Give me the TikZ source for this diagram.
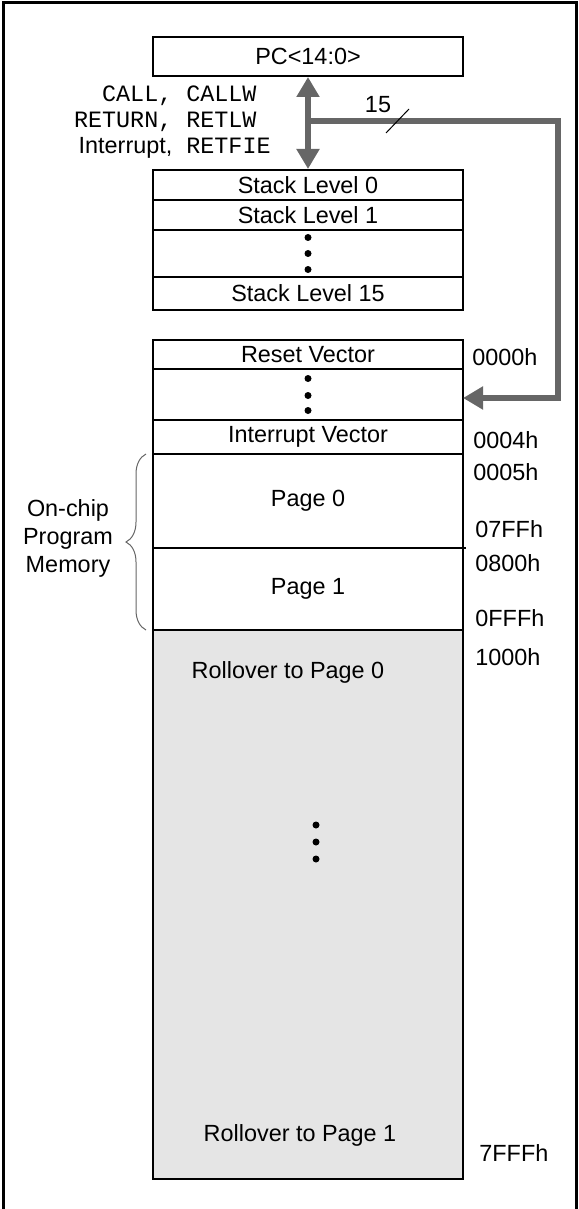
\documentclass[tikz,border=0pt]{standalone}
\usepackage{fontspec}
\setmainfont{Liberation Sans}
\setmonofont{Liberation Mono}
\usepackage{xcolor}
\usepackage{tikz}
\usetikzlibrary{arrows.meta,calc,positioning,decorations.pathreplacing}

\definecolor{busgray}{RGB}{102,102,102}
\definecolor{rolloverfill}{RGB}{229,229,229}

\begin{document}
\begin{tikzpicture}[
      x=0.5pt, y=-0.5pt,
      every node/.style={font=\fontsize{11.7}{14}\selectfont},
      cell/.style={draw=black, line width=1pt, minimum width=155pt,
        inner sep=0pt, outer sep=0pt, anchor=north},
      addr/.style={anchor=west, inner sep=0pt},
      bus/.style={draw=busgray, line width=2.8pt},
      bustip/.style={-{Triangle[width=11pt,length=10pt]}},
      dot/.style={fill=black}
    ]
    \useasboundingbox (0,0) rectangle (578,1209);

    % open frame
    \draw[line width=1.5pt] (3,1209) -- (3,3) -- (576.5,3) -- (576.5,1209);

    % program counter
    \node[cell, minimum height=19.5pt] (pc) at (308,37) {PC<14:0>};

    % hardware stack
    \node[cell, minimum height=15pt] (stk0) at (308,170) {Stack Level 0};
    \node[cell, minimum height=15pt, below=0pt of stk0] (stk1) {Stack Level 1};
    \node[cell, minimum height=23.5pt, below=0pt of stk1] (stkdots) {};
    \node[cell, minimum height=16.5pt, below=0pt of stkdots] (stk15) {Stack Level 15};
    \foreach \d in {-16,0,16}
      \fill[dot] ($(stkdots.center)+(0,\d)$) circle (1.75pt);

    % program memory map
    \node[cell, minimum height=14.5pt] (reset) at (308,340) {Reset Vector};
    \node[cell, minimum height=25.5pt, below=0pt of reset] (memdots) {};
    \node[cell, minimum height=17pt, below=0pt of memdots] (intvec) {Interrupt Vector};
    \node[cell, minimum height=47pt, below=0pt of intvec] (page0) {Page 0};
    \node[cell, minimum height=41pt, below=0pt of page0] (page1) {Page 1};
    \node[cell, fill=rolloverfill, minimum height=274.5pt, below=0pt of page1] (rollover) {};
    \draw[line width=1pt] (page0.south east) -- ++(3,0);
    \foreach \d in {-16,1,16}
      \fill[dot] ($(memdots.center)+(0,\d)$) circle (1.75pt);
    \foreach \y in {825,842,859}
      \fill[dot] (316,\y) circle (1.75pt);

    \node (roll0) at (288,672) {Rollover to Page 0};
    \node (roll1) at (300,1135) {Rollover to Page 1};

    % addresses
    \node[addr] (a0000) at (472,357) {0000h};
    \node[addr] (a0004) at (473,440) {0004h};
    \node[addr] (a0005) at (473,472) {0005h};
    \node[addr] (a07FF) at (475,529) {07FFh};
    \node[addr] (a0800) at (475,563) {0800h};
    \node[addr] (a0FFF) at (475,618) {0FFFh};
    \node[addr] (a1000) at (475,657) {1000h};
    \node[addr] (a7FFF) at (479,1153) {7FFFh};

    % on-chip memory brace
    \draw[draw=busgray, line width=0.5pt, decorate, decoration={brace, amplitude=10pt}]
      ($(page1.south west)+(-7,0)$) -- ($(page0.north west)+(-7,0)$);
    \node[align=center] (onchip) at (68,538) {On-chip\\Program\\Memory};

    % stack push/pop
    \node[anchor=east, inner sep=0pt, font=\fontsize{11.7}{13}\selectfont] (ops) at (271,122)
      {\begin{tabular}{@{}r@{\hspace{7pt}}l@{}}
        \ttfamily CALL, & \ttfamily CALLW\\
        \ttfamily RETURN, & \ttfamily RETLW\\
        Interrupt, & \ttfamily RETFIE
       \end{tabular}};
    \draw[bus, {Triangle[width=11pt,length=10pt]}-{Triangle[width=11pt,length=10pt]},
      shorten <=0.5pt, shorten >=0.5pt] (pc.south) -- (stk0.north);

    % 15-bit bus to program memory
    \coordinate (tap) at (308,121);
    \coordinate (turn) at (558,121);
    \draw[bus, bustip] (tap) -- (turn) |- ([yshift=-1.75pt]memdots.east);
    \node (buswidth) at (378,105) {15};
    \draw[line width=0.5pt] (386,133) -- (409,109);
  \end{tikzpicture}
\end{document}
